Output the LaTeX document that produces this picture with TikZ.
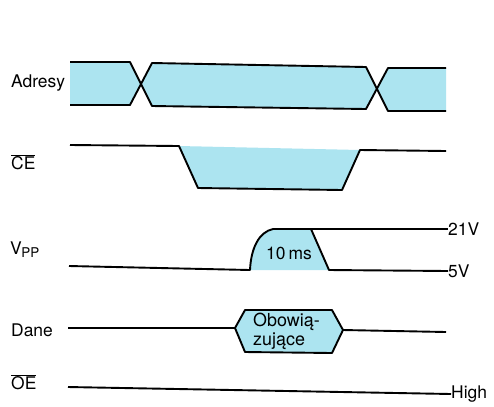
\documentclass[tikz,border=0pt]{standalone}
\usepackage{fontspec}
\usepackage{calc}
\setmainfont{TeX Gyre Heros}
\definecolor{busfill}{RGB}{172,228,240}
\newcommand{\barred}[1]{\begin{tabular}{@{}c@{}}\rule[-2bp]{\widthof{#1}}{1.6bp}\\[-4bp]#1\end{tabular}}
\begin{document}
\begin{tikzpicture}[x=1bp,y=-1bp,
  trace/.style={draw=black,line width=1.9bp,line join=round},
  area/.style={fill=busfill,draw=none},
  lbl/.style={font=\fontsize{17.5}{19}\selectfont,inner sep=0pt},
  sig/.style={lbl,anchor=west},
  lvl/.style={lbl,anchor=west}]
\useasboundingbox (0,0) rectangle (494,406);
\fill[white] (0,0) rectangle (494,406);

% signal names
\node[sig] (adr) at (11,83) {Adresy};
\node[sig] (ce) at (11,158) {\barred{CE}};
\node[sig] (vpp) at (10,250) {V\kern-0.5bp{\fontsize{13.5}{13.5}\selectfont\raisebox{-3bp}{PP}}};
\node[sig] (dane) at (11,330) {Dane};
\node[sig] (oe) at (11,378) {\barred{OE}};

% level names on the right
\node[lvl] (v21) at (448,229) {21V};
\node[lvl] (v5) at (448,271) {5V};
\node[lvl] (high) at (451,394) {High};

% address bus
\fill[area] (70,62) -- (130,62) -- (141,84) -- (152,63) -- (366,67) -- (377,88.7)
  -- (388,68) -- (446,68) -- (446,111) -- (388,111) -- (377,88.7) -- (366,109)
  -- (152,106) -- (141,84) -- (130,105) -- (70,105) -- cycle;
\draw[trace] (70,62) -- (130,62) -- (152,106) -- (366,109) -- (388,68) -- (446,68);
\draw[trace] (70,105) -- (130,105) -- (152,63) -- (366,67) -- (388,111) -- (446,111);

% chip enable
\fill[area] (179,146) -- (198,188) -- (342,190) -- (360,150) -- cycle;
\draw[trace] (70,145) -- (179,146) -- (198,188) -- (342,190) -- (360,150) -- (446,151);

% programming voltage
\fill[area] (250,270) .. controls (251,248) and (259,232) .. (273,229)
  -- (311,229) -- (329,270) -- cycle;
\draw[trace] (69,266) -- (250,270) .. controls (251,248) and (259,232) .. (273,229)
  -- (311,229) -- (329,270) -- (v5.west);
\draw[trace] (311,229) -- (v21.west);
\node[lbl] (pulse) at (289,253) {10\,ms};

% data
\draw[trace,fill=busfill] (235,328) -- (245,310) -- (332,310) -- (343,330)
  -- (332,353) -- (245,352) -- cycle;
\node[lbl,anchor=west,align=left,font=\fontsize{18}{19}\selectfont] (valid) at (253,331) {Obowią-\\zujące};
\draw[trace] (68,328) -- (235,328);
\draw[trace] (343,330) -- (446,332);

% output enable
\draw[trace] (68,387) -- (high.west);
\end{tikzpicture}
\end{document}
